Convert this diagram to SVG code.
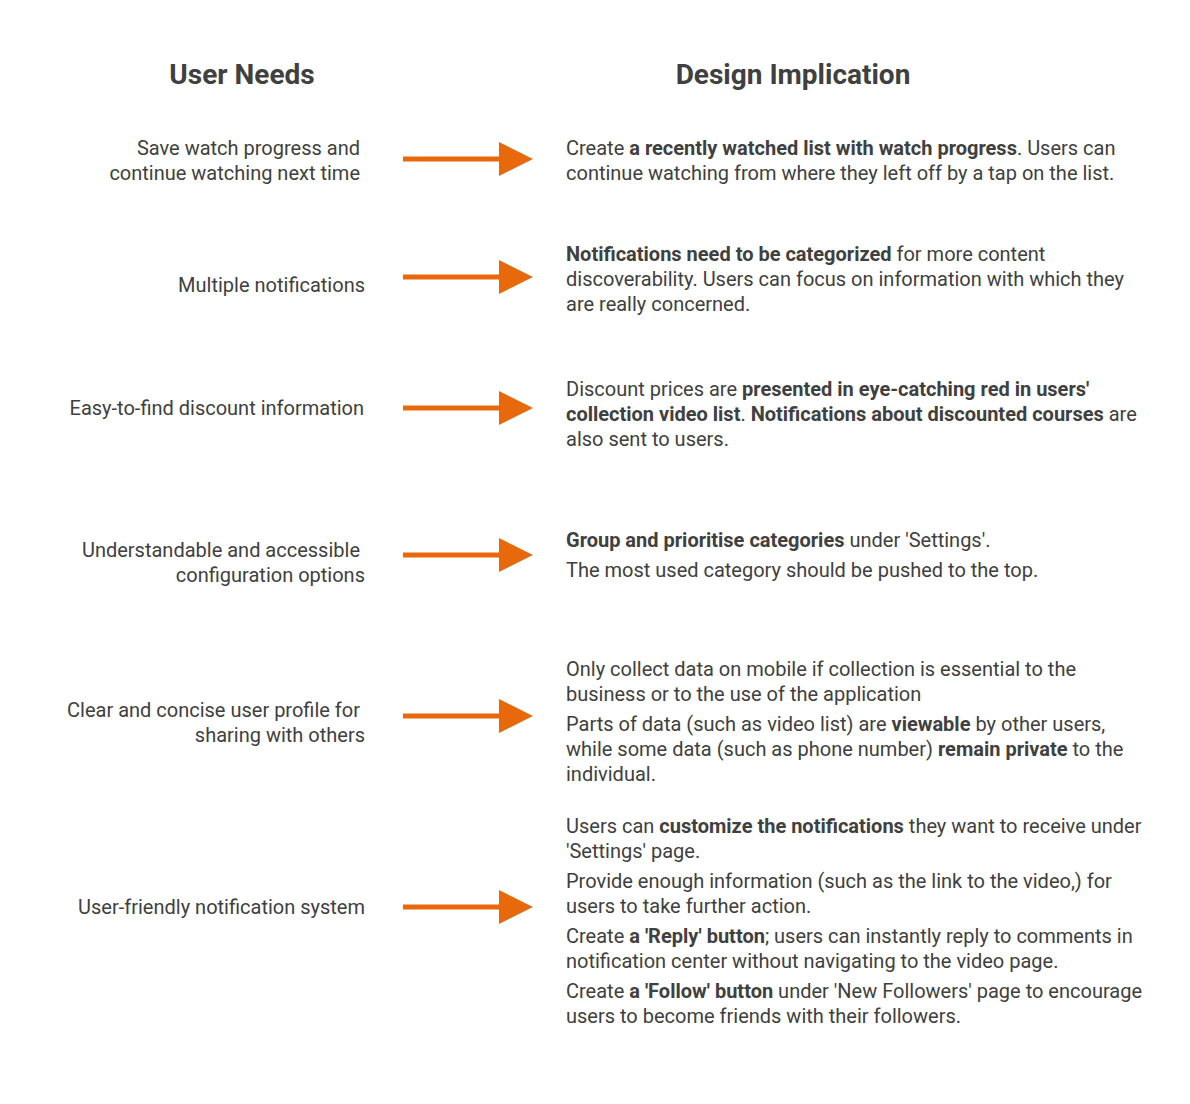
<svg xmlns="http://www.w3.org/2000/svg" width="1190" height="1104" viewBox="0 0 1190 1104">
<style>
text{font-family:Roboto,"Liberation Sans",sans-serif;fill:#404040;font-size:20px}
.h{font-size:28px;font-weight:700;text-anchor:middle}
.l{text-anchor:end}
.b{font-weight:700}
.ln{stroke:#E8690C;stroke-width:5;fill:none}
.hd{fill:#E8690C}
</style>
<defs>
<g id="arr"><line class="ln" x1="403" y1="0" x2="502" y2="0"/><polygon class="hd" points="499,-17 533,0 499,17"/></g>
</defs>
<rect width="1190" height="1104" fill="#fff"/>
<g id="titles">
<text class="h" x="242" y="84">User Needs</text>
<text class="h" x="793" y="84">Design Implication</text>
</g>
<g id="connectors">
<use href="#arr" y="159"/>
<use href="#arr" y="277"/>
<use href="#arr" y="408"/>
<use href="#arr" y="555"/>
<use href="#arr" y="716"/>
<use href="#arr" y="907"/>
</g>
<g id="need1"><text class="l" x="360" y="155">Save watch progress and</text><text class="l" x="360" y="180">continue watching next time</text></g>
<g id="need2"><text class="l" x="365" y="292">Multiple notifications</text></g>
<g id="need3"><text class="l" x="364" y="415">Easy-to-find discount information</text></g>
<g id="need4"><text class="l" x="360" y="557">Understandable and accessible</text><text class="l" x="365" y="582">configuration options</text></g>
<g id="need5"><text class="l" x="360" y="717">Clear and concise user profile for</text><text class="l" x="365" y="742">sharing with others</text></g>
<g id="need6"><text class="l" x="365" y="914">User-friendly notification system</text></g>
<g id="impl1">
<text x="566" y="155">Create <tspan class="b">a recently watched list with watch progress</tspan>. Users can</text>
<text x="566" y="180">continue watching from where they left off by a tap on the list.</text>
</g>
<g id="impl2">
<text x="566" y="261"><tspan class="b">Notifications need to be categorized</tspan> for more content</text>
<text x="566" y="286">discoverability. Users can focus on information with which they</text>
<text x="566" y="311">are really concerned.</text>
</g>
<g id="impl3">
<text x="566" y="396">Discount prices are <tspan class="b">presented in eye-catching red in users'</tspan></text>
<text x="566" y="421"><tspan class="b">collection video list</tspan>. <tspan class="b">Notifications about discounted courses</tspan> are</text>
<text x="566" y="446">also sent to users.</text>
</g>
<g id="impl4">
<text x="566" y="547"><tspan class="b">Group and prioritise categories</tspan> under 'Settings'.</text>
<text x="566" y="577">The most used category should be pushed to the top.</text>
</g>
<g id="impl5">
<text x="566" y="676">Only collect data on mobile if collection is essential to the</text>
<text x="566" y="701">business or to the use of the application</text>
<text x="566" y="731">Parts of data (such as video list) are <tspan class="b">viewable</tspan> by other users,</text>
<text x="566" y="756">while some data (such as phone number) <tspan class="b">remain private</tspan> to the</text>
<text x="566" y="781">individual.</text>
</g>
<g id="impl6">
<text x="566" y="833">Users can <tspan class="b">customize the notifications</tspan> they want to receive under</text>
<text x="566" y="858">'Settings' page.</text>
<text x="566" y="888">Provide enough information (such as the link to the video,) for</text>
<text x="566" y="913">users to take further action.</text>
<text x="566" y="943">Create <tspan class="b">a 'Reply' button</tspan>; users can instantly reply to comments in</text>
<text x="566" y="968">notification center without navigating to the video page.</text>
<text x="566" y="998">Create <tspan class="b">a 'Follow' button</tspan> under 'New Followers' page to encourage</text>
<text x="566" y="1023">users to become friends with their followers.</text>
</g>
</svg>
